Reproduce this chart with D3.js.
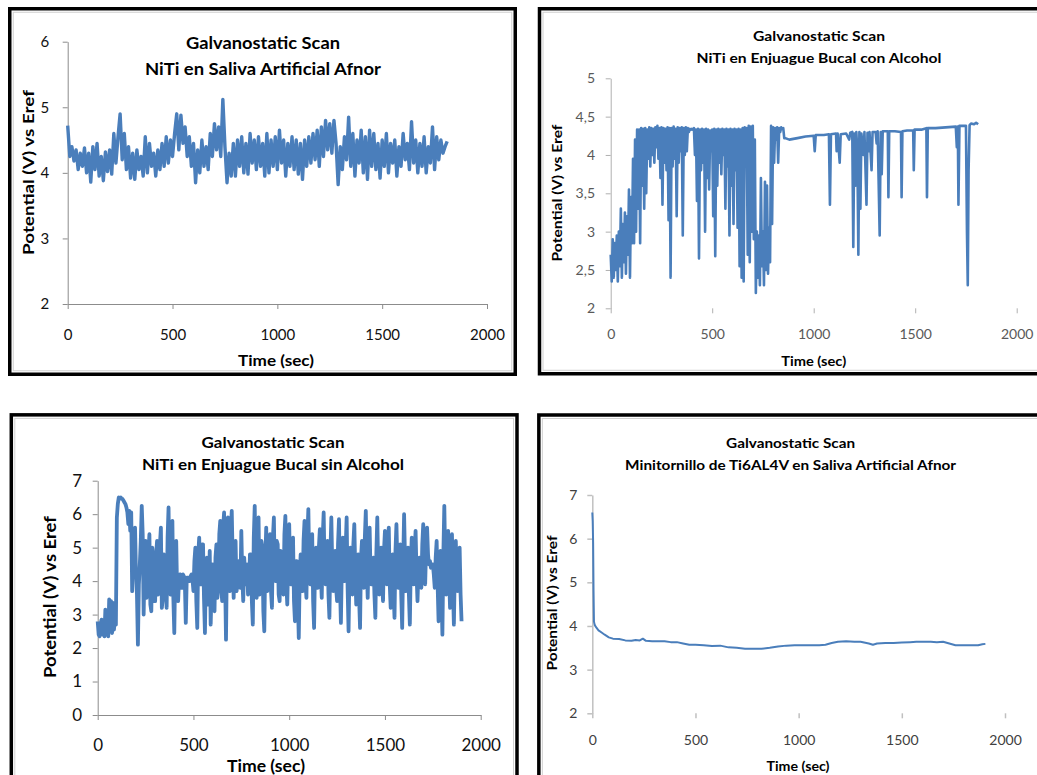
<!DOCTYPE html>
<html>
<head>
<meta charset="utf-8">
<script src="https://cdn.jsdelivr.net/npm/d3@7"></script>
<style>
  body { margin: 0; background: #fff; }
  svg { display: block; font-family: Lato, "Open Sans", sans-serif; }
</style>
</head>
<body>
<svg id="chart" width="1037" height="775"></svg>
<script>
// ---- data ----
const timeTicks = [0, 500, 1000, 1500, 2000];

// NiTi en Saliva Artificial Afnor : one reading every 10 s
const salivaStep = 10;
const salivaPotential = [
  4.72, 4.25, 4.40, 4.18, 4.35, 4.05, 4.30, 4.10, 4.38, 4.00,
  4.30, 3.86, 4.40, 4.05, 4.45, 3.95, 4.25, 3.88, 4.32, 4.02,
  4.35, 3.98, 4.60, 4.15, 4.55, 4.90, 4.20, 4.60, 4.05, 4.40,
  3.92, 4.30, 3.90, 4.35, 4.05, 4.25, 3.95, 4.55, 4.00, 4.45,
  4.10, 4.30, 3.95, 4.35, 4.05, 4.45, 4.10, 4.55, 4.15, 4.50,
  4.25, 4.60, 4.90, 4.35, 4.88, 4.45, 4.70, 4.25, 4.55, 4.10,
  4.45, 3.85, 4.35, 4.00, 4.50, 4.10, 4.40, 4.05, 4.60, 4.25,
  4.75, 4.35, 4.70, 4.25, 5.12, 4.40, 3.85, 4.30, 3.95, 4.45,
  3.95, 4.50, 4.10, 4.55, 4.00, 4.45, 3.98, 4.60, 4.15, 4.50,
  4.05, 4.55, 4.10, 4.45, 3.95, 4.60, 4.00, 4.50, 4.10, 4.55,
  4.05, 4.65, 4.15, 4.50, 3.95, 4.45, 4.10, 4.55, 4.05, 4.50,
  3.98, 4.45, 3.90, 4.50, 4.10, 4.55, 4.15, 4.60, 4.20, 4.65,
  4.10, 4.70, 4.25, 4.80, 4.35, 4.75, 4.30, 4.80, 4.45, 3.82,
  4.40, 4.05, 4.55, 4.20, 4.85, 4.10, 4.60, 3.95, 4.50, 4.15,
  4.65, 4.00, 4.55, 3.90, 4.65, 4.10, 4.60, 4.05, 4.45, 3.92,
  4.50, 4.10, 4.60, 4.00, 4.45, 4.15, 4.50, 3.95, 4.40, 4.10,
  4.60, 4.20, 4.45, 4.05, 4.78, 4.15, 4.50, 4.00, 4.45, 4.10,
  4.55, 4.00, 4.40, 4.15, 4.70, 4.05, 4.55, 4.20, 4.50, 4.30,
  4.40, 4.48
];

// NiTi en Enjuague Bucal con Alcohol : dense part every 5 s up to 855 s, then irregular readings
const conStep = 5;
const conDensePotential = [
  2.70, 2.35, 2.90, 2.40, 2.85, 2.50, 2.95, 2.35, 3.00, 2.55, 3.30, 2.40, 3.10, 2.60, 3.25, 2.45, 3.20, 2.70, 3.55, 2.40,
  3.45, 2.85, 3.95, 2.85, 4.20, 3.00, 4.33, 3.30, 4.33, 2.85, 4.35, 3.60, 4.34, 3.30, 4.35, 3.50, 4.33, 3.95, 4.36, 3.85,
  4.35, 4.00, 4.34, 3.90, 4.36, 4.10, 4.38, 3.95, 4.35, 3.70, 4.36, 3.35, 4.35, 3.90, 4.34, 3.80, 4.36, 3.15, 4.35, 2.40,
  4.35, 3.85, 4.37, 3.95, 4.34, 3.20, 4.36, 3.90, 4.35, 4.05, 4.36, 2.95, 4.35, 4.00, 4.36, 4.05, 4.35, 4.30, 4.34, 4.33,
  4.34, 4.33, 4.35, 4.00, 4.33, 3.40, 4.34, 2.65, 4.33, 3.80, 4.34, 3.90, 4.33, 3.00, 4.34, 3.70, 4.33, 3.55, 4.32, 4.05,
  4.33, 3.20, 4.34, 2.68, 4.33, 3.60, 4.34, 3.90, 4.33, 3.75, 4.34, 4.00, 4.33, 3.30, 4.34, 3.85, 4.33, 2.95, 4.34, 3.60,
  4.33, 3.10, 4.34, 3.80, 4.33, 3.05, 4.34, 2.55, 4.33, 2.40, 4.35, 2.35, 4.36, 3.90, 4.35, 2.70, 4.38, 2.60, 4.37, 3.00,
  4.38, 2.90, 4.20, 2.20, 3.00, 2.40, 2.95, 2.30, 3.70, 2.55, 3.00, 2.30, 3.65, 2.50, 3.60, 2.45, 3.05, 2.60, 4.38, 3.10,
  4.36, 3.90, 4.35, 4.20, 4.36, 3.90, 4.35, 4.30, 4.36, 4.34, 4.35, 4.22
];
const conTailTime = [
  860, 880, 920, 960, 1000, 1005, 1010, 1050, 1075, 1080,
  1085, 1110, 1113, 1118, 1128, 1133, 1160, 1175, 1180, 1190,
  1195, 1200, 1205, 1210, 1215, 1220, 1225, 1230, 1235, 1245,
  1250, 1260, 1265, 1270, 1275, 1285, 1290, 1305, 1310, 1315,
  1325, 1330, 1335, 1340, 1365, 1368, 1372, 1400, 1430, 1433,
  1437, 1460, 1490, 1493, 1497, 1530, 1555, 1558, 1562, 1600,
  1650, 1700, 1705, 1710, 1713, 1718, 1750, 1755, 1759, 1763,
  1768, 1775, 1790, 1800, 1810
];
const conTailPotential = [
  4.22, 4.20, 4.22, 4.24, 4.25, 4.05, 4.26, 4.26, 4.27, 3.35,
  4.27, 4.28, 4.05, 4.28, 3.90, 4.27, 4.28, 4.20, 4.29, 4.30,
  2.80, 4.28, 3.60, 4.30, 4.05, 2.70, 4.30, 3.30, 4.28, 4.00,
  4.30, 3.35, 4.29, 4.05, 4.30, 3.80, 4.30, 4.30, 4.15, 4.31,
  2.95, 4.30, 3.75, 4.31, 4.31, 3.45, 4.31, 4.31, 4.30, 3.45,
  4.31, 4.32, 4.32, 3.80, 4.33, 4.33, 4.35, 3.45, 4.35, 4.35,
  4.36, 4.37, 4.10, 4.37, 3.35, 4.38, 4.38, 3.00, 2.30, 3.80,
  4.39, 4.41, 4.40, 4.42, 4.40
];

// NiTi en Enjuague Bucal sin Alcohol : one reading every 5 s
const sinStep = 5;
const sinPotential = [
  2.80, 2.40, 2.35, 2.70, 2.85, 2.40, 2.60, 2.35, 3.15, 2.45, 2.90, 2.35, 3.45, 2.50, 3.40, 2.45, 3.35, 2.55, 2.90, 2.70,
  5.90, 6.30, 6.50, 6.48, 6.50, 6.46, 6.45, 6.40, 6.35, 6.30, 6.20, 6.05, 5.70, 6.10, 5.50, 6.05, 3.70, 5.20, 4.30, 5.60,
  4.20, 3.60, 2.10, 3.90, 4.50, 5.20, 6.25, 5.40, 3.00, 4.60, 5.20, 3.50, 3.80, 4.90, 5.40, 3.30, 3.10, 5.00, 4.60, 3.40,
  3.40, 4.80, 5.20, 3.60, 3.90, 5.10, 5.60, 3.20, 3.50, 4.80, 4.70, 3.80, 3.20, 5.30, 6.20, 4.00, 3.60, 5.20, 5.80, 3.50,
  2.45, 4.50, 5.20, 3.60, 3.40, 4.10, 4.20, 3.80, 3.80, 4.20, 4.15, 4.00, 2.75, 4.10, 4.10, 4.00, 4.00, 4.15, 4.20, 4.05,
  3.70, 4.60, 5.00, 3.40, 2.60, 4.80, 5.30, 3.90, 3.90, 5.10, 5.10, 3.50, 2.45, 4.40, 4.70, 3.30, 3.60, 4.90, 2.70, 3.80,
  4.50, 3.60, 3.10, 4.70, 5.10, 3.50, 3.90, 5.40, 5.80, 3.80, 3.40, 5.60, 6.05, 4.20, 2.25, 4.80, 5.90, 3.90, 3.70, 5.50,
  6.10, 4.60, 3.50, 4.80, 5.20, 3.70, 3.90, 4.60, 4.20, 3.80, 5.50, 4.10, 3.40, 4.70, 4.20, 3.90, 4.50, 3.60, 3.80, 4.80,
  4.80, 3.40, 2.70, 5.30, 6.25, 4.20, 3.50, 5.40, 5.90, 3.60, 3.90, 5.20, 5.00, 3.10, 2.50, 4.60, 5.60, 3.70, 3.80, 5.10,
  5.40, 3.70, 3.20, 5.30, 5.90, 4.10, 4.00, 5.20, 5.10, 3.60, 3.40, 4.90, 4.60, 3.80, 3.60, 5.40, 5.95, 3.90, 3.30, 4.70,
  5.70, 4.20, 3.90, 5.10, 5.30, 3.40, 2.80, 4.60, 4.60, 3.50, 2.30, 4.20, 4.80, 3.90, 3.70, 5.20, 5.80, 4.00, 3.50, 5.30,
  6.15, 4.40, 3.90, 5.00, 5.40, 3.40, 2.60, 4.50, 5.00, 4.10, 3.80, 5.00, 5.55, 4.20, 3.50, 5.30, 6.05, 4.30, 3.90, 4.80,
  5.20, 3.60, 2.90, 4.80, 5.90, 4.40, 3.70, 4.60, 4.90, 3.80, 3.40, 5.10, 5.85, 3.90, 2.75, 4.50, 5.30, 4.20, 4.00, 5.00,
  5.90, 3.80, 2.50, 4.40, 5.00, 4.10, 3.60, 5.10, 5.70, 4.30, 3.30, 4.60, 4.80, 3.50, 2.60, 4.70, 5.20, 4.10, 3.80, 5.30,
  6.10, 4.40, 3.50, 4.90, 5.60, 4.20, 3.90, 4.50, 4.70, 3.60, 2.90, 4.80, 5.90, 4.30, 3.60, 4.60, 5.00, 3.90, 3.40, 4.90,
  5.50, 4.30, 3.90, 5.00, 5.60, 3.90, 3.20, 4.40, 4.80, 3.70, 2.90, 4.90, 5.70, 4.50, 3.80, 4.60, 5.10, 3.60, 2.60, 4.50,
  6.00, 4.60, 3.70, 4.80, 5.00, 3.60, 2.70, 4.50, 5.30, 4.30, 3.90, 4.90, 5.50, 4.20, 3.40, 4.30, 4.70, 4.00, 3.80, 5.10,
  5.70, 4.50, 3.90, 5.00, 5.60, 4.80, 4.50, 4.60, 4.40, 4.50, 4.50, 4.20, 3.80, 4.70, 5.20, 3.90, 2.80, 4.20, 4.90, 3.70,
  2.40, 4.80, 6.25, 4.50, 3.60, 4.70, 5.50, 4.10, 3.20, 4.60, 5.40, 3.80, 2.70, 4.40, 5.20, 4.20, 3.70, 4.50, 5.00, 3.60,
  2.80
];

// Minitornillo de Ti6AL4V en Saliva Artificial Afnor
const screwTime = [
  0, 2, 4, 6, 8, 12, 20, 30, 45, 60,
  80, 100, 130, 160, 190, 210, 230, 245, 260, 290,
  320, 350, 380, 410, 440, 470, 500, 540, 580, 620,
  660, 700, 740, 780, 820, 860, 900, 940, 980, 1020,
  1060, 1100, 1130, 1160, 1190, 1230, 1270, 1300, 1340, 1360,
  1380, 1420, 1460, 1500, 1540, 1570, 1600, 1640, 1670, 1700,
  1730, 1760, 1800, 1840, 1870, 1890, 1905
];
const screwPotential = [
  6.60, 6.40, 5.90, 4.80, 4.10, 4.02, 3.96, 3.90, 3.85, 3.80,
  3.74, 3.71, 3.70, 3.67, 3.66, 3.68, 3.67, 3.71, 3.66, 3.65,
  3.65, 3.65, 3.63, 3.63, 3.60, 3.57, 3.57, 3.56, 3.54, 3.55,
  3.51, 3.50, 3.48, 3.48, 3.48, 3.50, 3.53, 3.55, 3.56, 3.56,
  3.56, 3.56, 3.57, 3.61, 3.64, 3.65, 3.64, 3.64, 3.60, 3.57,
  3.60, 3.61, 3.61, 3.62, 3.63, 3.64, 3.64, 3.64, 3.63, 3.64,
  3.60, 3.56, 3.56, 3.56, 3.56, 3.58, 3.59
];

const yTicksSaliva = [2, 3, 4, 5, 6];
const yTicksCon = [2, 2.5, 3, 3.5, 4, 4.5, 5];
const yTicksSin = [0, 1, 2, 3, 4, 5, 6, 7];
const yTicksScrew = [2, 3, 4, 5, 6, 7];

const titleTop = "Galvanostatic Scan";
const subtitles = [
  "NiTi en Saliva Artificial Afnor",
  "NiTi en Enjuague  Bucal con Alcohol",
  "NiTi en Enjuague Bucal sin Alcohol",
  "Minitornillo de Ti6AL4V en Saliva Artificial Afnor"
];
const xTitle = "Time (sec)";
const yTitle = "Potential (V) vs Eref";

// ---- series ----
const salivaSeries = salivaPotential.map((v, i) => [i * salivaStep, v]);
const conSeries = conDensePotential.map((v, i) => [i * conStep, v])
  .concat(conTailTime.map((t, i) => [t, conTailPotential[i]]));
const sinSeries = sinPotential.map((v, i) => [i * sinStep, v]);
const screwSeries = screwTime.map((t, i) => [t, screwPotential[i]]);

const svg = d3.select("#chart");
const blue = "#4a7ebb";

function fitText(sel, w) {
  sel.attr("textLength", w).attr("lengthAdjust", "spacingAndGlyphs");
}

function drawPanel(p) {
  const g = svg.append("g");

  g.append("rect")
    .attr("x", p.frame[0]).attr("y", p.frame[1])
    .attr("width", p.frame[2]).attr("height", p.frame[3])
    .attr("fill", "#fff").attr("stroke", "#000").attr("stroke-width", 3.5);
  g.append("rect")
    .attr("x", p.frame[0] + 3.5).attr("y", p.frame[1] + 3.5)
    .attr("width", p.frame[2] - 7).attr("height", p.frame[3] - 7)
    .attr("fill", "none").attr("stroke", "#d0d0d0").attr("stroke-width", 1);

  const x = d3.scaleLinear().domain([0, 2000]).range([p.left, p.right]);
  const y = d3.scaleLinear().domain(p.yDomain).range([p.bottom, p.top]);

  // y axis
  const ya = g.append("g")
    .attr("transform", `translate(${p.left},0)`)
    .call(d3.axisLeft(y).tickValues(p.yTicks).tickSize(5).tickSizeOuter(0)
      .tickFormat(d => String(d).replace(".", ",")));
  ya.select(".domain").attr("stroke", p.axisColor).attr("stroke-width", p.axisWidth);
  ya.selectAll(".tick line").attr("stroke", p.axisColor).attr("stroke-width", p.axisWidth);
  ya.selectAll(".tick text")
    .attr("x", -p.yLabelGap)
    .attr("fill", p.tickColor)
    .style("font-size", p.tickFont + "px")
    .style("font-family", "Lato, sans-serif");

  // x axis
  const xa = g.append("g")
    .attr("transform", `translate(0,${p.bottom})`)
    .call(d3.axisBottom(x).tickValues(timeTicks).tickSize(5).tickSizeOuter(0)
      .tickFormat(d3.format("d")));
  xa.select(".domain")
    .attr("stroke", p.xLine ? p.axisColor : "none")
    .attr("stroke-width", p.axisWidth);
  xa.selectAll(".tick line").attr("stroke", p.axisColor).attr("stroke-width", p.axisWidth);
  xa.selectAll(".tick text")
    .attr("y", p.xLabelGap).attr("dy", null)
    .attr("dominant-baseline", "central")
    .attr("fill", p.tickColor)
    .style("font-size", p.tickFont + "px")
    .style("font-family", "Lato, sans-serif");

  // data line
  const line = d3.line().x(d => x(d[0])).y(d => y(d[1]));
  g.append("path")
    .datum(p.series)
    .attr("d", line)
    .attr("fill", "none")
    .attr("stroke", blue)
    .attr("stroke-width", p.lineWidth)
    .attr("stroke-linejoin", "round");

  // titles
  const t1 = g.append("text")
    .attr("x", p.titleX).attr("y", p.titleY[0])
    .attr("text-anchor", "middle").attr("dominant-baseline", "central")
    .style("font-size", p.titleFont + "px").style("font-weight", 700)
    .text(titleTop);
  fitText(t1, p.titleW[0]);
  const t2 = g.append("text")
    .attr("x", p.titleX).attr("y", p.titleY[1])
    .attr("text-anchor", "middle").attr("dominant-baseline", "central")
    .style("font-size", p.titleFont + "px").style("font-weight", 700)
    .text(p.subtitle);
  fitText(t2, p.titleW[1]);

  const xt = g.append("text")
    .attr("x", p.xTitle[0]).attr("y", p.xTitle[1])
    .attr("text-anchor", "middle").attr("dominant-baseline", "central")
    .style("font-size", p.axisTitleFont + "px").style("font-weight", 700)
    .text(xTitle);
  fitText(xt, p.xTitle[2]);

  const yt = g.append("text")
    .attr("transform", `translate(${p.yTitle[0]},${p.yTitle[1]}) rotate(-90)`)
    .attr("text-anchor", "middle").attr("dominant-baseline", "central")
    .style("font-size", p.axisTitleFont + "px").style("font-weight", 700)
    .text(yTitle);
  fitText(yt, p.yTitle[2]);
}

const panels = [
  {
    series: salivaSeries, subtitle: subtitles[0], yDomain: [2, 6], yTicks: yTicksSaliva,
    frame: [9.75, 8.75, 505.5, 365.5],
    left: 67.7, right: 487, top: 41.7, bottom: 304,
    axisColor: "#8c8c8c", axisWidth: 1, xLine: true,
    tickColor: "#111", tickFont: 15, xLabelGap: 30, yLabelGap: 18.4,
    lineWidth: 3.4,
    titleX: 263, titleY: [42, 68], titleFont: 17, titleW: [154, 236],
    axisTitleFont: 16, xTitle: [276, 359, 76], yTitle: [27, 172.5, 165]
  },
  {
    series: conSeries, subtitle: subtitles[1], yDomain: [2, 5], yTicks: yTicksCon,
    frame: [539.5, 8.75, 520, 365],
    left: 610.7, right: 1016.7, top: 78.3, bottom: 308.3,
    axisColor: "#b0b0b0", axisWidth: 1, xLine: false,
    tickColor: "#595959", tickFont: 14, xLabelGap: 25.7, yLabelGap: 15.7,
    lineWidth: 2.6,
    titleX: 819, titleY: [35, 57], titleFont: 14, titleW: [132, 245],
    axisTitleFont: 13, xTitle: [813.7, 361, 65], yTitle: [557, 193, 137]
  },
  {
    series: sinSeries, subtitle: subtitles[2], yDomain: [0, 7], yTicks: yTicksSin,
    frame: [11.3, 414.85, 505.7, 400],
    left: 97.7, right: 480.7, top: 480.7, bottom: 715,
    axisColor: "#8c8c8c", axisWidth: 1, xLine: true,
    tickColor: "#111", tickFont: 17, xLabelGap: 29, yLabelGap: 15.7,
    lineWidth: 3.8,
    titleX: 273, titleY: [441, 463], titleFont: 16, titleW: [143, 262],
    axisTitleFont: 17, xTitle: [266, 765, 78], yTitle: [49, 597, 162]
  },
  {
    series: screwSeries, subtitle: subtitles[3], yDomain: [2, 7], yTicks: yTicksScrew,
    frame: [538.85, 415, 520, 400],
    left: 592.3, right: 1005, top: 495, bottom: 713.3,
    axisColor: "#c0c0c0", axisWidth: 1.5, xLine: false,
    tickColor: "#404040", tickFont: 14, xLabelGap: 26.7, yLabelGap: 15,
    lineWidth: 2,
    titleX: 790.6, titleY: [442, 464], titleFont: 14, titleW: [129, 331],
    axisTitleFont: 13, xTitle: [798, 766, 63], yTitle: [552, 603, 135]
  }
];

panels.forEach(drawPanel);
</script>
</body>
</html>
